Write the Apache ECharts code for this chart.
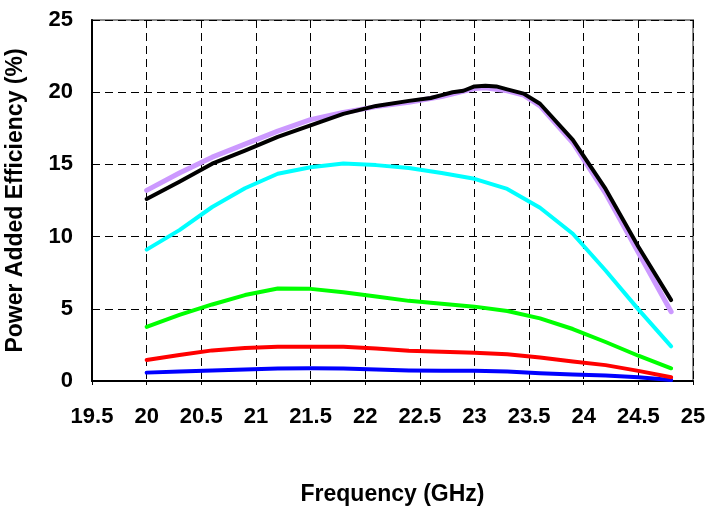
<!DOCTYPE html>
<html>
<head>
<meta charset="utf-8">
<script src="https://cdn.jsdelivr.net/npm/echarts@6/dist/echarts.min.js"></script>
<style>html,body{margin:0;padding:0;background:#fff;}#c{width:709px;height:510px;}</style>
</head>
<body>
<div id="c"></div>
<script>
// Frequency points (GHz)
var freq = [20, 20.3, 20.6, 20.9, 21.2, 21.5, 21.8, 22.1, 22.4, 22.7, 23.0, 23.3, 23.6, 23.9, 24.2, 24.5, 24.8];
var cyanPAE  = [9.1, 10.45, 12.05, 13.35, 14.35, 14.8, 15.07, 14.95, 14.75, 14.4, 14.0, 13.3, 12.0, 10.2, 7.65, 4.96, 2.4];
var greenPAE = [3.75, 4.58, 5.3, 5.95, 6.4, 6.38, 6.15, 5.85, 5.55, 5.35, 5.15, 4.85, 4.34, 3.6, 2.7, 1.75, 0.88];
var redPAE   = [1.45, 1.8, 2.12, 2.28, 2.38, 2.38, 2.38, 2.25, 2.1, 2.03, 1.95, 1.85, 1.63, 1.35, 1.1, 0.7, 0.26];
var bluePAE  = [0.58, 0.66, 0.73, 0.8, 0.87, 0.88, 0.87, 0.8, 0.73, 0.71, 0.71, 0.65, 0.53, 0.45, 0.38, 0.26, 0.07];

var freqBlack = [20, 20.3, 20.6, 20.9, 21.2, 21.5, 21.8, 22.1, 22.4, 22.6, 22.7, 22.8, 22.9, 23.0, 23.1, 23.2, 23.3, 23.45, 23.6, 23.9, 24.2, 24.5, 24.8];
var blackPAE  = [12.6, 13.8, 15.05, 15.95, 16.9, 17.7, 18.5, 19.05, 19.4, 19.6, 19.8, 20.0, 20.1, 20.4, 20.45, 20.4, 20.2, 19.9, 19.2, 16.7, 13.3, 9.3, 5.6];

var freqPurple = [20, 20.3, 20.6, 20.9, 21.2, 21.5, 21.8, 22.1, 22.4, 22.7, 23.0, 23.1, 23.3, 23.45, 23.6, 23.9, 24.2, 24.5, 24.8];
var purplePAE  = [13.2, 14.4, 15.5, 16.4, 17.3, 18.1, 18.6, 19.0, 19.3, 19.7, 20.25, 20.3, 20.1, 19.8, 19.05, 16.5, 13.0, 8.9, 4.8];

var xTicks = [19.5, 20, 20.5, 21, 21.5, 22, 22.5, 23, 23.5, 24, 24.5, 25];
var yTicks = [0, 5, 10, 15, 20, 25];

function pairs(xs, ys) { return xs.map(function (x, i) { return [x, ys[i]]; }); }

var FONT = '"Liberation Sans", Arial, sans-serif';
function line(name, xs, ys, color, w, z) {
  return { name: name, type: 'line', data: pairs(xs, ys), showSymbol: false, symbol: 'none',
    lineStyle: { color: color, width: w, cap: 'round', join: 'round' }, itemStyle: { color: color }, z: z, animation: false };
}

var chart = echarts.init(document.getElementById('c'), null, { renderer: 'canvas' });
chart.setOption({
  backgroundColor: '#ffffff',
  animation: false,
  grid: { left: 92, right: 16, top: 20, bottom: 129, show: true, borderColor: '#8c8c8c', borderWidth: 2, backgroundColor: 'transparent', containLabel: false, outerBoundsMode: 'none' },
  xAxis: {
    type: 'value', min: xTicks[0], max: xTicks[xTicks.length - 1], interval: 0.5,
    name: 'Frequency (GHz)', nameLocation: 'middle', nameGap: 102,
    nameTextStyle: { fontFamily: FONT, fontWeight: 'bold', fontSize: 23, color: '#000' },
    axisLine: { show: true, onZero: false, lineStyle: { color: '#000', width: 2 } },
    axisTick: { show: true, length: 4, lineStyle: { color: '#000', width: 1 } },
    axisLabel: { margin: 25, fontFamily: FONT, fontWeight: 'bold', fontSize: 22, color: '#000', showMinLabel: true, showMaxLabel: true },
    splitLine: { show: true, lineStyle: { color: '#000', width: 1, type: [8, 5] } }
  },
  yAxis: {
    type: 'value', min: yTicks[0], max: yTicks[yTicks.length - 1], interval: 5,
    name: 'Power Added Efficiency (%)', nameLocation: 'middle', nameGap: 65,
    nameTextStyle: { fontFamily: FONT, fontWeight: 'bold', fontSize: 23, color: '#000' },
    axisLine: { show: true, lineStyle: { color: '#000', width: 2 } },
    axisTick: { show: false },
    axisLabel: { margin: 19, fontFamily: FONT, fontWeight: 'bold', fontSize: 22, color: '#000' },
    splitLine: { show: true, lineStyle: { color: '#000', width: 1, type: [8, 5] } }
  },
  series: [
    line('blue', freq, bluePAE, '#0000ff', 4, 2),
    line('red', freq, redPAE, '#ff0000', 4, 3),
    line('green', freq, greenPAE, '#00ff00', 4, 4),
    line('cyan', freq, cyanPAE, '#00ffff', 4, 5),
    line('purple', freqPurple, purplePAE, '#cc99ff', 5, 6),
    line('black', freqBlack, blackPAE, '#000000', 4, 7)
  ]
});
</script>
</body>
</html>
